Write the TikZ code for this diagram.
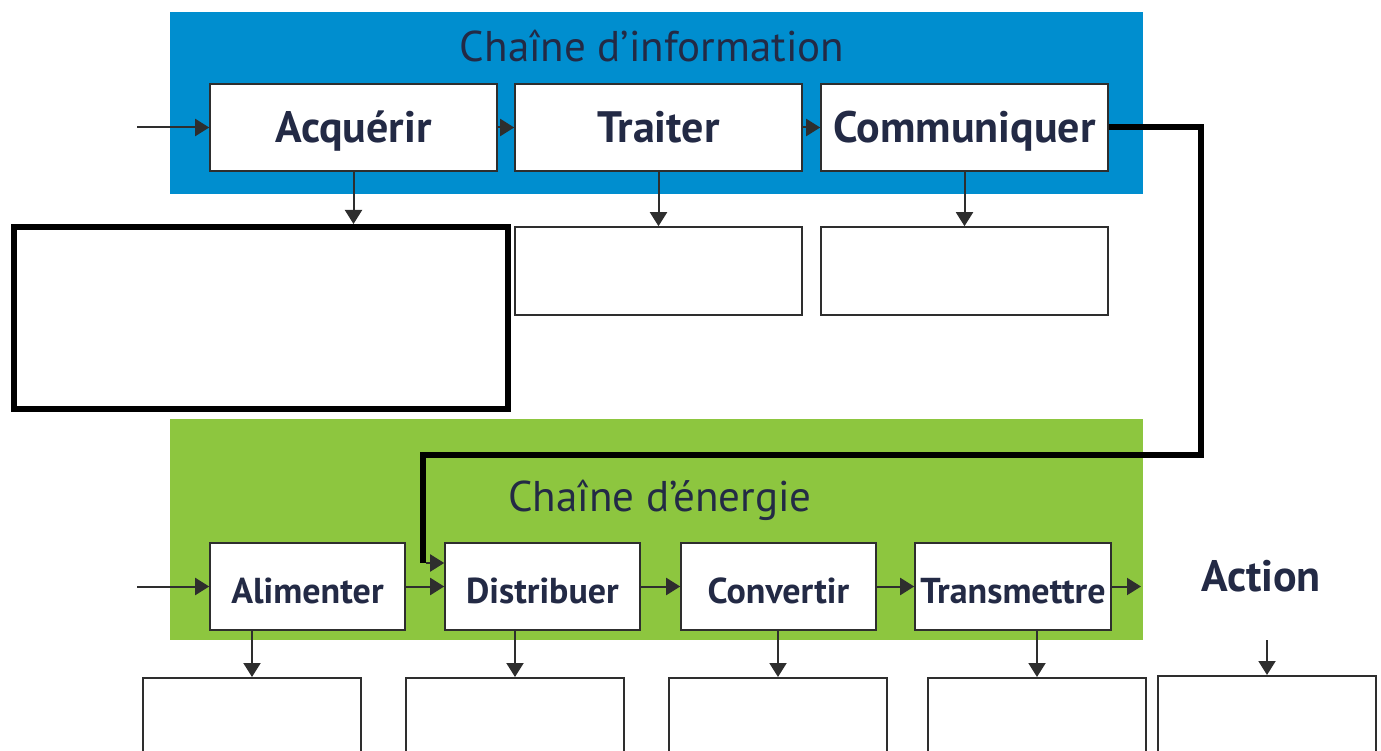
\documentclass[tikz,border=0pt]{standalone}
\usepackage{fontspec}
\setmainfont{PT Sans}
\usetikzlibrary{arrows.meta}
\definecolor{infoblue}{HTML}{008ECF}
\definecolor{energygreen}{HTML}{8DC63F}
\definecolor{ink}{HTML}{232A45}
\definecolor{edge}{HTML}{2E2E2E}
\tikzset{
  funcbox/.style={draw=edge, line width=1.6pt, fill=white, minimum height=87pt,
    inner sep=0pt, text=ink, font=\fontsize{44}{50}\selectfont\bfseries,
    text height=31pt, text depth=0pt},
  topbox/.style={funcbox, minimum width=287pt},
  lowbox/.style={funcbox, minimum width=195pt, font=\fontsize{36}{42}\selectfont\bfseries,
    text height=33pt, text depth=0pt},
  blankbox/.style={draw=edge, line width=1.6pt, fill=white, inner sep=0pt},
  flow/.style={draw=edge, line width=2pt, -{Triangle[length=14pt,width=17pt]}},
  bus/.style={draw=black, line width=6pt},
  title/.style={text=ink, font=\fontsize{43}{48}\selectfont},
}
\begin{document}
\begin{tikzpicture}[x=1pt,y=-1pt]
\useasboundingbox (0,0) rectangle (1381,751);

% chain backgrounds
\fill[infoblue] (170,12) rectangle (1143,194);
\fill[energygreen] (170,419) rectangle (1143,640);
\node[title] (tinfo) at (652,46) {Chaîne d’information};
\node[title] (tener) at (660,500) {Chaîne d’énergie};

% information chain
\node[topbox] (acq) at (353.5,127.5) {Acquérir};
\node[topbox] (trt) at (658.5,127.5) {Traiter};
\node[topbox] (com) at (964.5,127.5) {Communiquer};

\node[draw=black, line width=6pt, fill=white, minimum width=494pt, minimum height=182pt, inner sep=0pt] (acqout) at (260.5,318) {};
\node[blankbox, minimum width=287pt, minimum height=88pt] (trtout) at (658.5,271) {};
\node[blankbox, minimum width=287pt, minimum height=88pt] (comout) at (964.5,271) {};

\coordinate (inin) at (137,127.5);
\draw[flow] (inin) -- (acq.west);
\draw[flow] (acq) -- (trt);
\draw[flow] (trt) -- (com);
\draw[flow] (acq.south) -- (acq.south |- acqout.north);
\draw[flow] (trt.south) -- (trtout.north);
\draw[flow] (com.south) -- (comout.north);

% energy chain
\node[lowbox] (ali) at (307.5,586.5) {Alimenter};
\node[lowbox] (dis) at (542.5,586.5) {Distribuer};
\node[lowbox] (cnv) at (778.5,586.5) {Convertir};
\node[lowbox, minimum width=196pt] (trm) at (1013,586.5) {Transmettre};
\node[text=ink, font=\fontsize{44}{50}\selectfont\bfseries] (act) at (1261,576) {Action};

\coordinate (enin) at (137,586.5);
\coordinate (enout) at (1141,586.5);
\draw[flow] (enin) -- (ali.west);
\draw[flow] (ali) -- (dis);
\draw[flow] (dis) -- (cnv);
\draw[flow] (cnv) -- (trm);
\draw[flow] (trm.east) -- (enout);

% result boxes under the energy chain
\node[blankbox, minimum width=218pt, minimum height=90pt, anchor=north] (aliout) at (252,677) {};
\node[blankbox, minimum width=218pt, minimum height=90pt, anchor=north] (disout) at (515,677) {};
\node[blankbox, minimum width=218pt, minimum height=90pt, anchor=north] (cnvout) at (778,677) {};
\node[blankbox, minimum width=218pt, minimum height=90pt, anchor=north] (trmout) at (1037,677) {};
\node[blankbox, minimum width=218pt, minimum height=90pt, anchor=north] (actout) at (1267,675) {};

\draw[flow] (aliout.north |- ali.south) -- (aliout.north);
\draw[flow] (disout.north |- dis.south) -- (disout.north);
\draw[flow] (cnvout.north |- cnv.south) -- (cnvout.north);
\draw[flow] (trmout.north |- trm.south) -- (trmout.north);
\coordinate (actin) at (1267,640);
\draw[flow] (actin) -- (actout.north);

% orders from the information chain to the energy chain
\coordinate (busturn) at (1201,455);
\coordinate (busend) at (423,563);
\draw[bus] (com.east) -| (busturn) -| (busend);
\draw[flow] ([xshift=3pt]busend) -- (dis.west |- busend);
\end{tikzpicture}
\end{document}
